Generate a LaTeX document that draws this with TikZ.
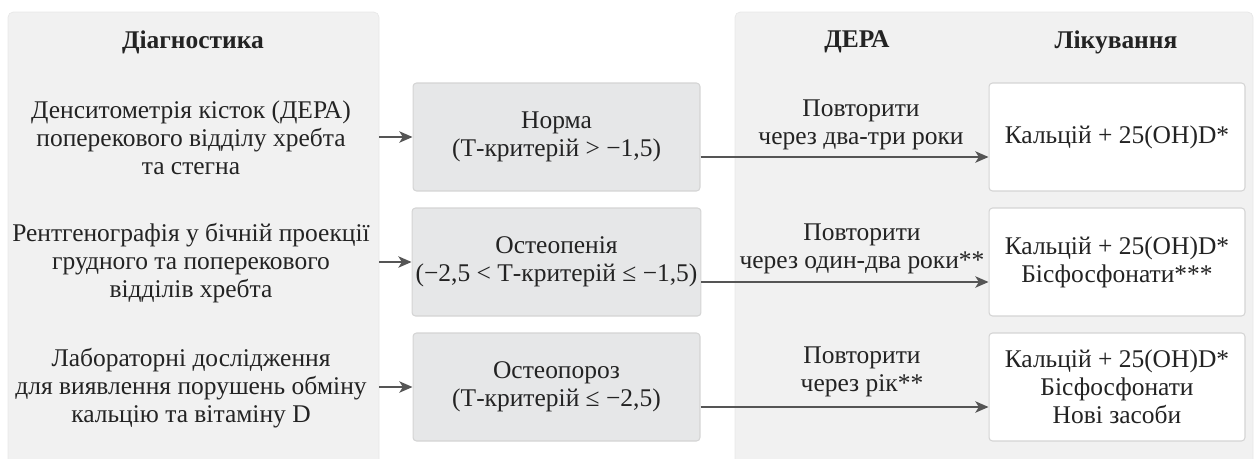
\documentclass[tikz,border=0pt]{standalone}
\usepackage{fontspec}
\setmainfont{Liberation Serif}
\usetikzlibrary{arrows.meta,positioning}
\definecolor{panelgray}{HTML}{F1F1F1}
\definecolor{panelline}{HTML}{E7E7E7}
\definecolor{boxgray}{HTML}{E6E7E8}
\definecolor{boxline}{HTML}{D4D4D4}
\definecolor{textgray}{HTML}{232323}
\definecolor{arrowgray}{HTML}{555555}

\begin{document}
\begin{tikzpicture}[
    x=0.02cm, y=-0.02cm,
    >={Stealth[length=7.5pt, width=6.5pt, inset=2pt]},
    txt/.style={font=\fontsize{14.5}{16}\selectfont, text=textgray, align=center},
    head/.style={txt, font=\fontsize{14.5}{16}\selectfont\bfseries},
    panel/.style={fill=panelgray, draw=panelline, line width=0.4pt, rounded corners=3pt},
    gradebox/.style={txt, draw=boxline, fill=boxgray, rounded corners=2pt, inner xsep=2pt,
      line width=0.6pt, minimum width=5.74cm, minimum height=2.16cm},
    carebox/.style={txt, draw=boxline, fill=white, rounded corners=2pt, inner xsep=2pt,
      line width=0.6pt, minimum width=5.12cm, minimum height=2.16cm},
    link/.style={->, draw=arrowgray, line width=0.9pt},
  ]
  \useasboundingbox (0,0) rectangle (1255,458);

  % ========= PANELS =========
  \draw[panel] (8,12) rectangle (379,470);
  \draw[panel] (735,12) rectangle (1253,470);

  % headers
  \node[head] (hdiag) at (193,42) {Діагностика};
  \node[head] (hdxa)  at (857,42) {ДЕРА};
  \node[head] (hcare) at (1116,42) {Лікування};

  % ========= DIAGNOSTICS =========
  \node[txt] (dxa)  at (191,138) {Денситометрія кісток (ДЕРА)\\поперекового відділу хребта\\та стегна};
  \node[txt] (xray) at (191,263) {Рентгенографія у бічній проекції\\грудного та поперекового\\відділів хребта};
  \node[txt] (lab)  at (191,388) {Лабораторні дослідження\\для виявлення порушень обміну\\кальцію та вітаміну D};

  \coordinate (out1) at (379,137);
  \coordinate (out2) at (379,262);
  \coordinate (out3) at (379,387);

  % ========= T-SCORE GRADES =========
  \node[gradebox] (norm)    at (556.5,137) {Норма\\(Т-критерій > −1,5)};
  \node[gradebox] (penia)   at (556.5,262) {Остеопенія\\(−2,5 < Т-критерій ≤ −1,5)};
  \node[gradebox] (porosis) at (556.5,387) {Остеопороз\\(Т-критерій ≤ −2,5)};

  \draw[link] (out1) -- (norm);
  \draw[link] (out2) -- (penia);
  \draw[link] (out3) -- (porosis);

  % ========= TREATMENT =========
  \node[carebox] (care1) at (1117,137) {Кальцій + 25(OH)D*};
  \node[carebox] (care2) at (1117,262) {Кальцій + 25(OH)D*\\Бісфосфонати***};
  \node[carebox] (care3) at (1117,387) {Кальцій + 25(OH)D*\\Бісфосфонати\\Нові засоби};

  \draw[link] ([yshift=-0.4cm]norm.east) -- ([yshift=-0.4cm]norm.east -| care1.west);
  \draw[link] ([yshift=-0.4cm]penia.east) -- ([yshift=-0.4cm]penia.east -| care2.west);
  \draw[link] ([yshift=-0.4cm]porosis.east) -- ([yshift=-0.4cm]porosis.east -| care3.west);

  % repeat intervals
  \node[txt] (rep1) at (861,125) {Повторити\\через два-три роки};
  \node[txt] (rep2) at (862,249) {Повторити\\через один-два роки**};
  \node[txt] (rep3) at (862,372) {Повторити\\через рік**};
\end{tikzpicture}
\end{document}
